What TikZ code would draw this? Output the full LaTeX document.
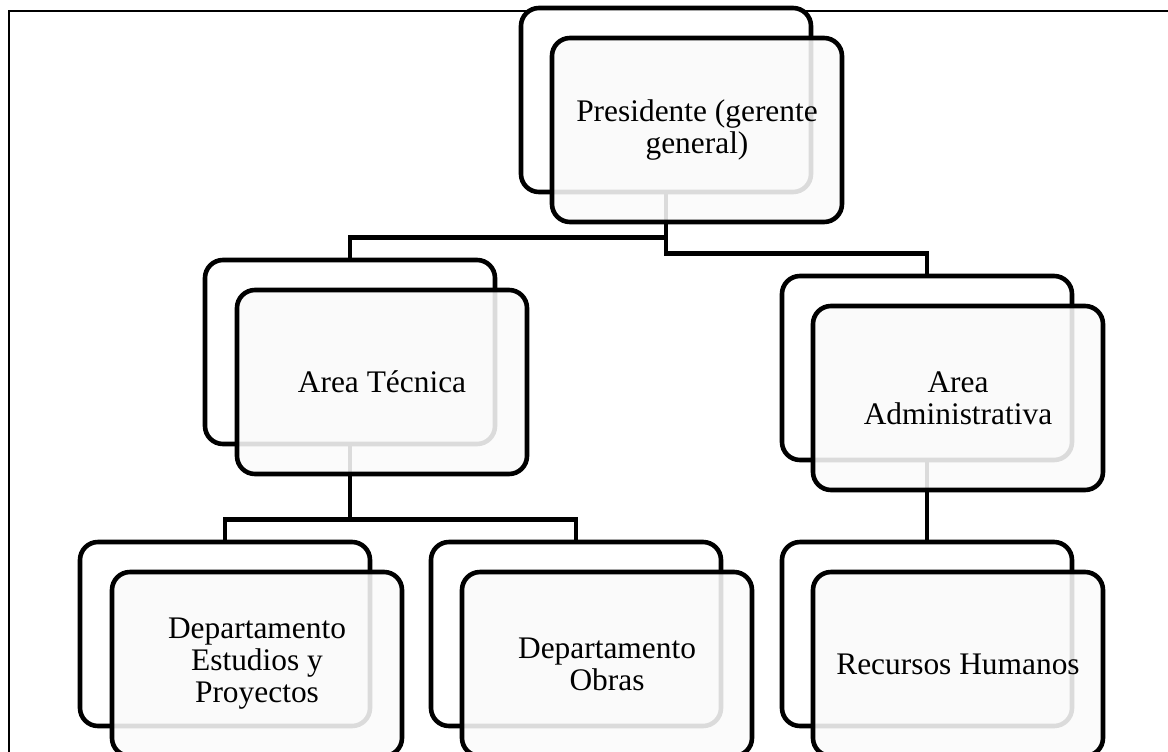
\documentclass[tikz,border=0pt]{standalone}
\usepackage{fontspec}
\setmainfont{Liberation Serif}
\pgfdeclarelayer{background}
\pgfsetlayers{background,main}
\begin{document}
\begin{tikzpicture}[x=0.5pt,y=-0.5pt,
  backbox/.style={draw=black, line width=2.3pt, rounded corners=9pt, fill=white,
    minimum width=145pt, minimum height=92pt, inner sep=0pt},
  frontbox/.style={backbox, fill=white!98!black, fill opacity=0.88, text opacity=1,
    align=center, font=\fontsize{15.7}{16}\selectfont},
  link/.style={draw=black, line width=2.3pt}]
\useasboundingbox (0,0) rectangle (1168,751);
% back boxes
\node[backbox] (pB) at (666,100) {};
\node[backbox] (tB) at (350,352) {};
\node[backbox] (aB) at (927,368) {};
\node[backbox] (eB) at (225,634) {};
\node[backbox] (oB) at (576,634) {};
\node[backbox] (rB) at (927,634) {};
% front boxes
\node[frontbox] (p) at (697,130) {Presidente (gerente\\general)};
\node[frontbox] (t) at (382,382) {Area Técnica};
\node[frontbox] (a) at (958,398) {Area\\Administrativa};
\node[frontbox] (e) at (257,664) {Departamento\\Estudios y\\Proyectos};
\node[frontbox] (o) at (607,664) {Departamento\\Obras};
\node[frontbox] (r) at (958,664) {Recursos Humanos};
\begin{pgfonlayer}{background}
\draw[line width=1pt] (9,11) rectangle (1200,790);
\draw[link] (pB.south) -- ++(0,43) -| (tB.north);
\draw[link] (pB.south) -- ++(0,59) -| (aB.north);
\draw[link] (tB.south) -- ++(0,73) -| (eB.north);
\draw[link] (tB.south) -- ++(0,73) -| (oB.north);
\draw[link] (aB.south) -- (rB.north);
\end{pgfonlayer}
\end{tikzpicture}
\end{document}
